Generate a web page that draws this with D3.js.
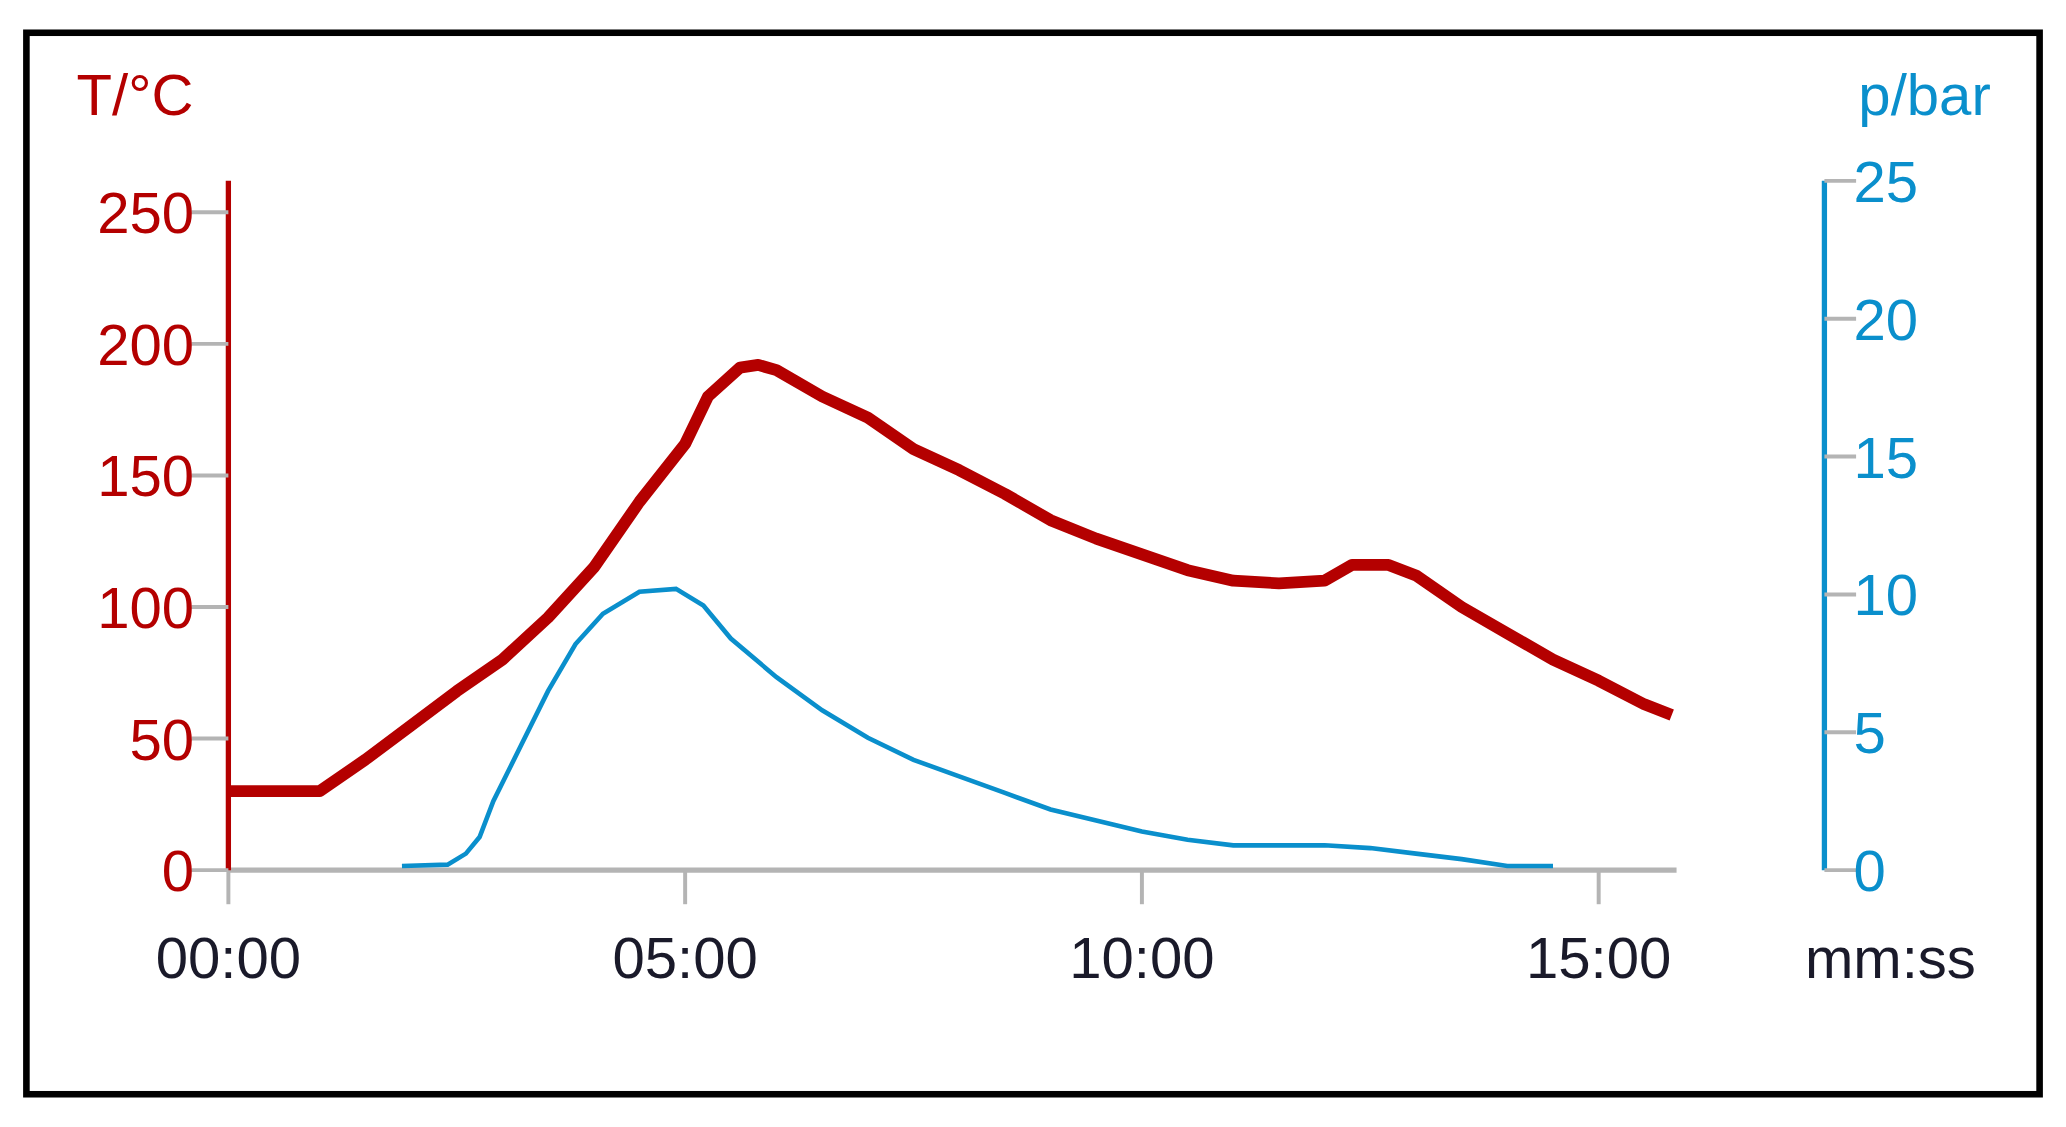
<!DOCTYPE html>
<html>
<head>
<meta charset="utf-8">
<script src="https://cdn.jsdelivr.net/npm/d3@7"></script>
<style>
  html, body { margin: 0; padding: 0; background: #fff; }
  svg { display: block; }
</style>
</head>
<body>
<svg id="chart" width="2066" height="1127" viewBox="0 0 1565 860" preserveAspectRatio="none"></svg>
<script>
// temperature curve, minutes vs °C
const tempTime = [0, 1.0, 1.5, 2.0, 2.5, 3.0, 3.5, 4.0, 4.5, 5.0, 5.25, 5.6, 5.8, 6.0, 6.5, 7.0, 7.5, 8.0, 8.5, 9.0, 9.5, 10.0, 10.5, 11.0, 11.5, 12.0, 12.3, 12.7, 13.0, 13.5, 14.0, 14.5, 15.0, 15.5, 15.8];
const tempValues = [30, 30, 42, 55, 68, 80, 96, 115, 140, 162, 180, 191, 192, 190, 180, 172, 160, 152, 143, 133, 126, 120, 114, 110, 109, 110, 116, 116, 112, 100, 90, 80, 72, 63, 59];
// pressure curve, minutes vs bar
const presTime = [1.9, 2.4, 2.6, 2.75, 2.9, 3.2, 3.5, 3.8, 4.1, 4.5, 4.9, 5.2, 5.5, 6.0, 6.5, 7.0, 7.5, 8.0, 8.5, 9.0, 9.5, 10.0, 10.5, 11.0, 12.0, 12.5, 13.0, 13.5, 14.0, 14.5];
const presValues = [0.15, 0.2, 0.6, 1.2, 2.5, 4.5, 6.5, 8.2, 9.3, 10.1, 10.2, 9.6, 8.4, 7.0, 5.8, 4.8, 4.0, 3.4, 2.8, 2.2, 1.8, 1.4, 1.1, 0.9, 0.9, 0.8, 0.6, 0.4, 0.15, 0.15];
const tempTicks = [0, 50, 100, 150, 200, 250];
const presTicks = [0, 5, 10, 15, 20, 25];
const timeTicks = [0, 5, 10, 15];

const red = '#b40000', blue = '#0a8fcc', grey = '#b4b4b4';
const font = 'Liberation Sans, Arial, sans-serif';
const svg = d3.select('#chart');

svg.append('rect')
    .attr('x', 20).attr('y', 25).attr('width', 1525).attr('height', 810)
    .attr('fill', 'none').attr('stroke', '#000').attr('stroke-width', 5);

const x = d3.scaleLinear().domain([0, 15]).range([173, 1211]);
const yT = d3.scaleLinear().domain([0, 250]).range([664, 162]);
const yP = d3.scaleLinear().domain([0, 25]).range([664, 138]);

// x axis
const xg = svg.append('g').attr('transform', 'translate(0,664)');
xg.append('line').attr('x1', 173).attr('x2', 1270).attr('stroke', grey).attr('stroke-width', 4);
xg.call(g => g.selectAll('.xt').data(timeTicks).enter().append('line')
    .attr('x1', d => x(d)).attr('x2', d => x(d)).attr('y1', 0).attr('y2', 26)
    .attr('stroke', grey).attr('stroke-width', 3));
xg.selectAll('.xl').data(timeTicks).enter().append('text')
    .attr('x', d => x(d)).attr('y', 82)
    .attr('text-anchor', 'middle').attr('font-family', font).attr('font-size', 44)
    .attr('fill', '#1a1a2a')
    .text(d => d3.format('02')(d) + ':00');
svg.append('text').attr('x', 1432).attr('y', 746).attr('text-anchor', 'middle')
    .attr('font-family', font).attr('font-size', 44).attr('fill', '#1a1a2a').text('mm:ss');

// left axis
const lg = svg.append('g');
lg.append('line').attr('x1', 173).attr('x2', 173).attr('y1', 138).attr('y2', 664)
    .attr('stroke', red).attr('stroke-width', 4);
lg.selectAll('.lt').data(tempTicks).enter().append('line')
    .attr('x1', 145).attr('x2', 173).attr('y1', d => yT(d)).attr('y2', d => yT(d))
    .attr('stroke', grey).attr('stroke-width', 3);
lg.selectAll('.ll').data(tempTicks).enter().append('text')
    .attr('x', 147).attr('y', d => yT(d) + 16).attr('text-anchor', 'end')
    .attr('font-family', font).attr('font-size', 44).attr('fill', red).text(d => d);
svg.append('text').attr('x', 58).attr('y', 88).attr('font-family', font)
    .attr('font-size', 44).attr('fill', red).text('T/°C');

// right axis
const rg = svg.append('g');
rg.append('line').attr('x1', 1382).attr('x2', 1382).attr('y1', 138).attr('y2', 664)
    .attr('stroke', blue).attr('stroke-width', 4);
rg.selectAll('.rt').data(presTicks).enter().append('line')
    .attr('x1', 1382).attr('x2', 1406).attr('y1', d => yP(d)).attr('y2', d => yP(d))
    .attr('stroke', grey).attr('stroke-width', 3);
rg.selectAll('.rl').data(presTicks).enter().append('text')
    .attr('x', 1404).attr('y', d => yP(d) + 16).attr('text-anchor', 'start')
    .attr('font-family', font).attr('font-size', 44).attr('fill', blue).text(d => d);
svg.append('text').attr('x', 1508).attr('y', 88).attr('text-anchor', 'end')
    .attr('font-family', font).attr('font-size', 44).attr('fill', blue).text('p/bar');

// series
const tempData = tempTime.map((t, i) => [t, tempValues[i]]);
const presData = presTime.map((t, i) => [t, presValues[i]]);
svg.append('path').datum(presData)
    .attr('d', d3.line().x(d => x(d[0])).y(d => yP(d[1])))
    .attr('fill', 'none').attr('stroke', blue).attr('stroke-width', 3.5);
svg.append('path').datum(tempData)
    .attr('d', d3.line().x(d => x(d[0])).y(d => yT(d[1])))
    .attr('fill', 'none').attr('stroke', red).attr('stroke-width', 9)
    .attr('stroke-linejoin', 'round');
</script>
</body>
</html>
